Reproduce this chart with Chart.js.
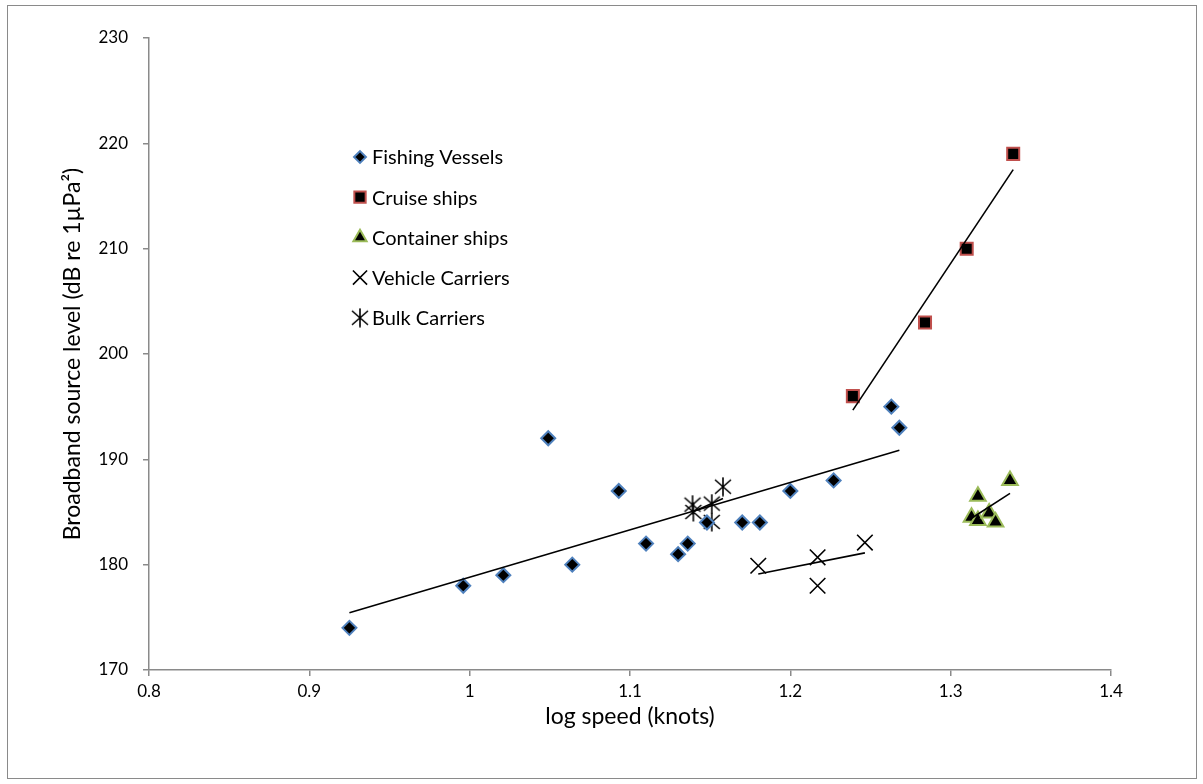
<!DOCTYPE html>
<html>
<head>
<meta charset="utf-8">
<script src="https://cdn.jsdelivr.net/npm/chart.js@4.4.0/dist/chart.umd.min.js"></script>
<style>
  html, body { margin: 0; padding: 0; background: #fff; }
  #wrap { width: 1203px; height: 784px; }
</style>
</head>
<body>
<div id="wrap"><canvas id="speedChart" width="1203" height="784"></canvas></div>
<script>
// values
const fishingSpeed = [0.925, 0.996, 1.021, 1.049, 1.064, 1.093, 1.110, 1.130, 1.136, 1.148, 1.170, 1.181, 1.200, 1.227, 1.263, 1.268];
const fishingLevel = [174, 178, 179, 192, 180, 187, 182, 181, 182, 184, 184, 184, 187, 188, 195, 193];

const cruiseSpeed = [1.239, 1.284, 1.310, 1.339];
const cruiseLevel = [196, 203, 210, 219];

const containerSpeed = [1.313, 1.317, 1.317, 1.324, 1.328, 1.337];
const containerLevel = [184.5, 186.5, 184.2, 184.9, 184.05, 188.0];

const vehicleSpeed = [1.180, 1.217, 1.217, 1.2465];
const vehicleLevel = [179.9, 180.7, 178.0, 182.1];

const bulkSpeed = [1.139, 1.1395, 1.151, 1.158, 1.151];
const bulkLevel = [185.7, 185.0, 185.8, 187.4, 184.06];

const seriesNames = ['Fishing Vessels', 'Cruise ships', 'Container ships', 'Vehicle Carriers', 'Bulk Carriers'];
const xTicks = [0.8, 0.9, 1, 1.1, 1.2, 1.3, 1.4];
const yTicks = [170, 180, 190, 200, 210, 220, 230];

function toPoints(xs, ys) {
    return xs.map((x, i) => ({ x: x, y: ys[i] }));
}

// least squares line over the range of the series (like the excel trendline)
function trend(xs, ys) {
    const n = xs.length;
    const mx = xs.reduce((a, b) => a + b, 0) / n;
    const my = ys.reduce((a, b) => a + b, 0) / n;
    let sxy = 0, sxx = 0;
    for (let i = 0; i < n; i++) {
        sxy += (xs[i] - mx) * (ys[i] - my);
        sxx += (xs[i] - mx) * (xs[i] - mx);
    }
    const k = sxy / sxx;
    const x0 = Math.min(...xs), x1 = Math.max(...xs);
    return [{ x: x0, y: my + k * (x0 - mx) }, { x: x1, y: my + k * (x1 - mx) }];
}

// asterisk marker: an x with a vertical bar
const bulkMark = document.createElement('canvas');
bulkMark.width = 20;
bulkMark.height = 20;
(function () {
    const b = bulkMark.getContext('2d');
    b.strokeStyle = '#000';
    b.lineWidth = 1.6;
    b.beginPath();
    b.moveTo(2, 3); b.lineTo(18, 17);
    b.moveTo(18, 3); b.lineTo(2, 17);
    b.moveTo(10, 0.5); b.lineTo(10, 19.5);
    b.stroke();
})();

const markers = [
    { pointStyle: 'rectRot', radius: 7, borderWidth: 2, fill: '#000', stroke: '#4F81BD' },
    { pointStyle: 'rect', radius: 8.5, borderWidth: 2, fill: '#000', stroke: '#C0504D' },
    { pointStyle: 'triangle', radius: 9, borderWidth: 2, fill: '#000', stroke: '#9BBB59' },
    { pointStyle: 'crossRot', radius: 11, borderWidth: 1.6, fill: '#000', stroke: '#000' },
    { pointStyle: bulkMark, radius: 10, borderWidth: 0, fill: '#000', stroke: '#000' }
];

function fitLine(pts) {
    return {
        data: pts, showLine: true, borderColor: '#000', borderWidth: 1.6,
        pointRadius: 0, pointHoverRadius: 0, fill: false
    };
}

function markerSet(i, xs, ys) {
    const m = markers[i];
    return {
        label: seriesNames[i], data: toPoints(xs, ys), showLine: false,
        pointStyle: m.pointStyle, pointRadius: m.radius, pointHoverRadius: m.radius,
        pointBorderWidth: m.borderWidth, pointBackgroundColor: m.fill, pointBorderColor: m.stroke
    };
}

const legendPlugin = {
    id: 'insideLegend',
    afterDraw(chart) {
        const ctx = chart.ctx;
        ctx.save();
        seriesNames.forEach((name, i) => {
            const m = markers[i];
            const y = 157 + i * 40.2;
            ctx.fillStyle = m.fill;
            ctx.strokeStyle = m.stroke;
            ctx.lineWidth = m.borderWidth;
            const r = m.pointStyle === 'crossRot' ? 10 : (m.pointStyle === 'rect' ? 8 : m.radius * 0.85);
            Chart.helpers.drawPoint(ctx, { pointStyle: m.pointStyle, radius: r, borderWidth: m.borderWidth, rotation: 0 }, 360, y);
            ctx.fillStyle = '#000';
            ctx.font = '20px Lato';
            ctx.textBaseline = 'middle';
            ctx.textAlign = 'left';
            ctx.fillText(name, 372, y + 1);
        });
        ctx.restore();
    }
};

const framePlugin = {
    id: 'frame',
    beforeDraw(chart) {
        const ctx = chart.ctx;
        ctx.save();
        ctx.fillStyle = '#fff';
        ctx.fillRect(0, 0, chart.width, chart.height);
        ctx.strokeStyle = '#8a8a8a';
        ctx.lineWidth = 1;
        ctx.strokeRect(7.5, 5.5, 1189, 773);
        ctx.restore();
    }
};

Chart.defaults.font.family = 'Lato';
Chart.defaults.color = '#000';

new Chart(document.getElementById('speedChart').getContext('2d'), {
    type: 'scatter',
    data: {
        datasets: [
            fitLine(trend(fishingSpeed, fishingLevel)),
            fitLine(trend(cruiseSpeed, cruiseLevel)),
            fitLine(trend(containerSpeed, containerLevel)),
            fitLine(trend(vehicleSpeed, vehicleLevel)),
            fitLine(trend(bulkSpeed, bulkLevel)),
            markerSet(0, fishingSpeed, fishingLevel),
            markerSet(1, cruiseSpeed, cruiseLevel),
            markerSet(2, containerSpeed, containerLevel),
            markerSet(3, vehicleSpeed, vehicleLevel),
            markerSet(4, bulkSpeed, bulkLevel)
        ]
    },
    options: {
        responsive: false,
        animation: false,
        devicePixelRatio: 1,
        layout: { padding: { left: 0, top: 38, right: 92, bottom: 24 } },
        plugins: {
            legend: { display: false },
            tooltip: { enabled: false }
        },
        scales: {
            x: {
                type: 'linear',
                min: xTicks[0],
                max: xTicks[xTicks.length - 1],
                afterBuildTicks: (s) => { s.ticks = xTicks.map(v => ({ value: v })); },
                afterFit: (s) => { s.height = 90; },
                ticks: {
                    font: { size: 17 },
                    padding: 5,
                    callback: (v) => String(Math.round(v * 10) / 10)
                },
                grid: { drawOnChartArea: false, drawTicks: true, tickLength: 6, color: '#8a8a8a', lineWidth: 1.5 },
                border: { display: true, color: '#8a8a8a', width: 1.5 },
                title: { display: true, text: 'log speed (knots)', font: { size: 23 }, padding: { top: 0, bottom: 30 } }
            },
            y: {
                type: 'linear',
                min: yTicks[0],
                max: yTicks[yTicks.length - 1],
                afterBuildTicks: (s) => { s.ticks = yTicks.map(v => ({ value: v })); },
                afterFit: (s) => { s.width = 149; },
                ticks: { font: { size: 17 }, padding: 15 },
                grid: { drawOnChartArea: false, drawTicks: true, tickLength: 6, color: '#8a8a8a', lineWidth: 1.5 },
                border: { display: true, color: '#8a8a8a', width: 1.5 },
                title: { display: true, text: 'Broadband source level (dB re 1µPa²)', font: { size: 23 }, padding: { top: 59, bottom: 0 } }
            }
        }
    },
    plugins: [framePlugin, legendPlugin]
});
</script>
</body>
</html>
